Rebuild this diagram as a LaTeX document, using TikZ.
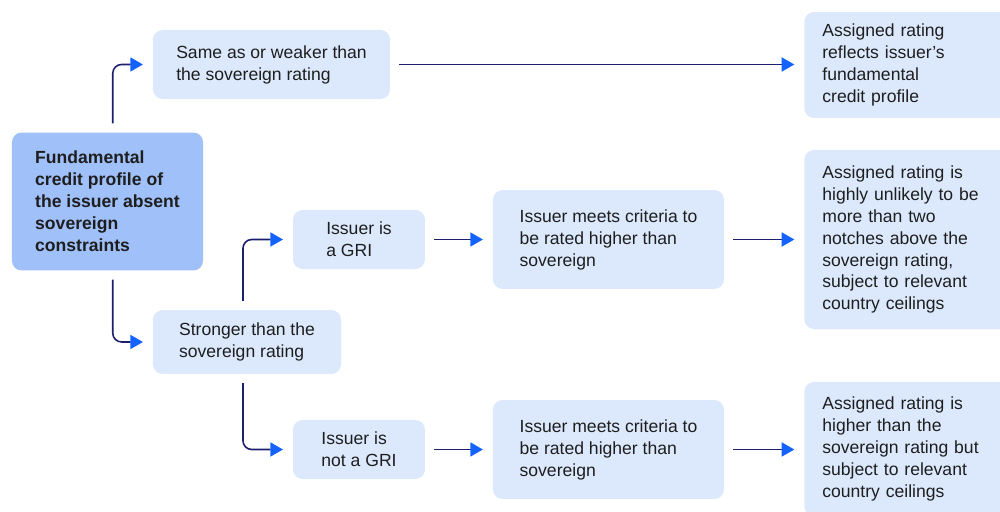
\documentclass[tikz,border=0pt]{standalone}
\usepackage{fontspec}
\setmainfont{Liberation Sans}
\usetikzlibrary{arrows.meta}

\definecolor{boxblue}{HTML}{DCE9FD}
\definecolor{rootblue}{HTML}{A0C0FA}
\definecolor{linenavy}{HTML}{1C1F6E}
\definecolor{tipblue}{HTML}{1463FF}
\definecolor{textgray}{HTML}{1E1E1E}

\begin{document}
\begin{tikzpicture}[x=0.2mm, y=-0.2mm,
    font=\fontsize{10}{12.5}\selectfont,
    box/.style={
        fill=boxblue,
        rounded corners=5.5pt,
        text=textgray,
        align=left,
        inner sep=0pt
    },
    rootbox/.style={
        box,
        fill=rootblue,
        font=\fontsize{10}{12.5}\selectfont\bfseries
    },
    resultbox/.style={
        box,
        anchor=west,
        text width=96.7pt,
        inner xsep=10.2pt,
        minimum width=117.2pt
    },
    link/.style={
        draw=linenavy,
        line width=0.9pt,
        rounded corners=5pt,
        -{Triangle[length=7.2pt, width=8pt, color=tipblue]},
        shorten <=5pt,
        shorten >=5.5pt
    }
]

\clip (0,0) rectangle (1000,512);

%%%%%%%%%%%%%%%%%%%%%%%%
% Starting point
%%%%%%%%%%%%%%%%%%%%%%%%

\node[rootbox, minimum width=108.7pt, minimum height=78.5pt] (root) at (107.5,201.5)
    {Fundamental\\credit profile of\\the issuer absent\\sovereign\\constraints};

%%%%%%%%%%%%%%%%%%%%%%%%
% First split
%%%%%%%%%%%%%%%%%%%%%%%%

\node[box, minimum width=134.9pt, minimum height=39.3pt] (weaker) at (271.5,64.5)
    {Same as or weaker than\\the sovereign rating};
\node[box, minimum width=107pt, minimum height=36.4pt] (stronger) at (247,342)
    {Stronger than the\\sovereign rating};

% --- GRI or not ---
\node[box, minimum width=75.1pt, minimum height=33.6pt] (gri) at (359,239.5)
    {Issuer is\\a GRI};
\node[box, minimum width=75.1pt, minimum height=33.6pt] (nogri) at (359,449.5)
    {Issuer is\\not a GRI};

% --- Criteria ---
\node[box, minimum width=131.5pt, minimum height=56.3pt] (critA) at (608.5,239.5)
    {Issuer meets criteria to\\be rated higher than\\sovereign};
\node[box, minimum width=131.5pt, minimum height=56.3pt] (critB) at (608.5,449.5)
    {Issuer meets criteria to\\be rated higher than\\sovereign};

%%%%%%%%%%%%%%%%%%%%%%%%
% Outcomes
%%%%%%%%%%%%%%%%%%%%%%%%

\node[resultbox, minimum height=60.3pt] (resA) at (804,65)
    {Assigned rating\\reflects issuer’s\\fundamental\\credit profile};
\node[resultbox, minimum height=101.9pt] (resB) at (804,239.5)
    {Assigned rating is\\highly unlikely to be\\more than two\\notches above the\\sovereign rating,\\subject to relevant\\country ceilings};
\node[resultbox, minimum height=76.3pt] (resC) at (804,449)
    {Assigned rating is\\higher than the\\sovereign rating but\\subject to relevant\\country ceilings};

%%%%%%%%%%%%%%%%%%%%%%%%
% Connectors
%%%%%%%%%%%%%%%%%%%%%%%%

\draw[link] ([xshift=3pt]root.north) |- (weaker.west);
\draw[link] ([xshift=3pt]root.south) |- (stronger.west);
\draw[link] (weaker.east) -- (weaker.east -| resA.west);

\draw[link] ([xshift=-2.3pt]stronger.north) |- (gri.west);
\draw[link] ([xshift=-2.3pt]stronger.south) |- (nogri.west);

\draw[link] (gri.east) -- (critA.west);
\draw[link] (nogri.east) -- (critB.west);
\draw[link] (critA.east) -- (critA.east -| resB.west);
\draw[link] (critB.east) -- (critB.east -| resC.west);

\end{tikzpicture}
\end{document}
